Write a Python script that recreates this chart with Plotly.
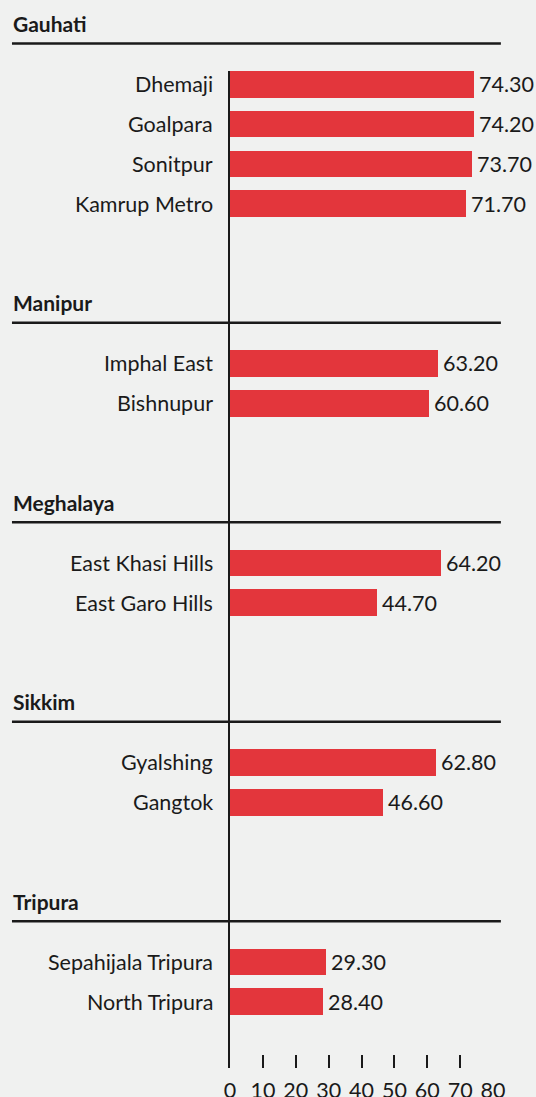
import plotly.graph_objects as go

# ---- data ----
groups = ["Gauhati", "Manipur", "Meghalaya", "Sikkim", "Tripura"]
gauhati_names = ["Dhemaji", "Goalpara", "Sonitpur", "Kamrup Metro"]
gauhati_vals = [74.30, 74.20, 73.70, 71.70]
manipur_names = ["Imphal East", "Bishnupur"]
manipur_vals = [63.20, 60.60]
meghalaya_names = ["East Khasi Hills", "East Garo Hills"]
meghalaya_vals = [64.20, 44.70]
sikkim_names = ["Gyalshing", "Gangtok"]
sikkim_vals = [62.80, 46.60]
tripura_names = ["Sepahijala Tripura", "North Tripura"]
tripura_vals = [29.30, 28.40]
x_ticks = [0, 10, 20, 30, 40, 50, 60, 70, 80]

group_names = [gauhati_names, manipur_names, meghalaya_names, sikkim_names, tripura_names]
group_vals = [gauhati_vals, manipur_vals, meghalaya_vals, sikkim_vals, tripura_vals]

# ---- layout of slots ----
GAP = 3  # empty slots between groups
names, vals, slots, group_first = [], [], [], []
s = 0
for gi, (gn, gv) in enumerate(zip(group_names, group_vals)):
    if gi > 0:
        s += GAP
    group_first.append(s)
    for n, v in zip(gn, gv):
        names.append(n)
        vals.append(v)
        slots.append(s)
        s += 1

Y_TOP = -0.33
Y_BOT = 24.66

def yfrac(slot):
    return (Y_BOT - slot) / (Y_BOT - Y_TOP)

FONT = "Lato, 'Open Sans', sans-serif"
TXT = "#1a1a1a"
RED = "#e3363c"
BG = "#f0f1f0"
FS = 21.5

fig = go.Figure()
fig.add_trace(go.Bar(
    x=vals, y=slots, orientation="h",
    marker=dict(color=RED, line=dict(width=0)),
    width=0.67,
    hoverinfo="skip",
))

shapes = []
annotations = []
for g, first in zip(groups, group_first):
    annotations.append(dict(
        text=f"<b>{g}</b>", xref="paper", yref="paper",
        x=-0.833, y=yfrac(first - 1.52), xanchor="left", yanchor="middle",
        showarrow=False, font=dict(family=FONT, size=21, color=TXT),
    ))
    shapes.append(dict(
        type="line", xref="paper", yref="paper",
        x0=-0.829, x1=1.030, y0=yfrac(first - 1.02), y1=yfrac(first - 1.02),
        line=dict(color=TXT, width=2.5),
    ))

# category labels
for n, sl in zip(names, slots):
    annotations.append(dict(
        text=n, xref="paper", yref="paper",
        x=-0.058, y=yfrac(sl), xanchor="right", yanchor="middle",
        showarrow=False, font=dict(family=FONT, size=FS, color=TXT),
    ))

# value labels
for v, sl in zip(vals, slots):
    annotations.append(dict(
        text=f"{v:.2f}", xref="x", yref="paper",
        x=v, y=yfrac(sl), xanchor="left", yanchor="middle", xshift=3,
        showarrow=False, font=dict(family=FONT, size=FS, color=TXT),
    ))

fig.update_layout(
    width=536, height=1097,
    margin=dict(l=230, r=43, t=71, b=29),
    paper_bgcolor=BG, plot_bgcolor=BG,
    showlegend=False,
    bargap=0,
    shapes=shapes,
    annotations=annotations,
    xaxis=dict(
        range=[0, 80], tickvals=x_ticks, ticktext=[str(t) for t in x_ticks],
        ticks="inside", ticklen=13, tickwidth=2, tickcolor=TXT,
        ticklabelstandoff=7,
        showgrid=False, zeroline=False, showline=False,
        tickfont=dict(family=FONT, size=FS, color=TXT),
        automargin=False, fixedrange=True,
    ),
    yaxis=dict(
        range=[Y_BOT, Y_TOP], showticklabels=False, ticks="",
        showgrid=False, zeroline=False,
        showline=True, linecolor=TXT, linewidth=2,
        automargin=False, fixedrange=True,
    ),
)

fig.write_html("out.html", config={"displayModeBar": False})
with open("out.html", "r", encoding="utf-8") as f:
    html = f.read()
html = html.replace("<head>", "<head><style>html,body{margin:0;padding:0;overflow:hidden;background:#f0f1f0;}</style>", 1)
with open("out.html", "w", encoding="utf-8") as f:
    f.write(html)
